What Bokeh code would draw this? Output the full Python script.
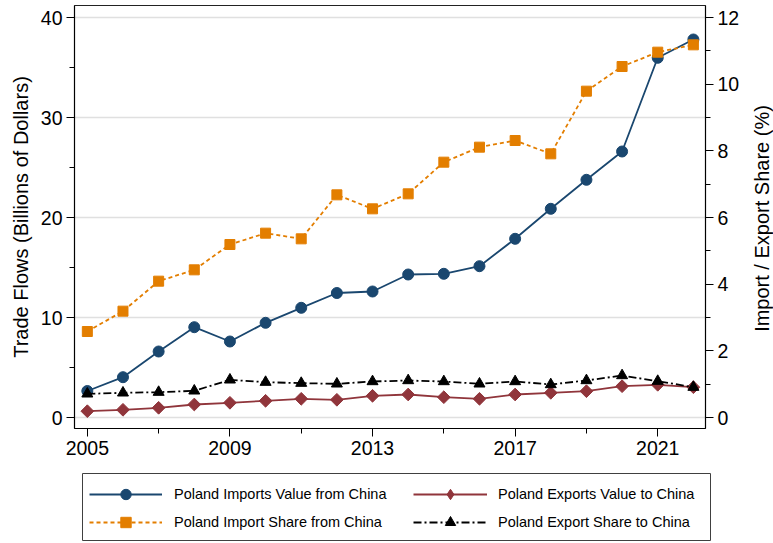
import math
from bokeh.plotting import figure
from bokeh.layouts import column, row
from bokeh.models import Range1d, LinearAxis, FixedTicker, Legend, LegendItem, Label
from bokeh.embed import file_html
from bokeh.resources import INLINE

years = list(range(2005, 2023))
imports_value = [2.65, 4.03, 6.6, 9.03, 7.6, 9.47, 10.97, 12.45, 12.6, 14.3,
                 14.37, 15.13, 17.87, 20.87, 23.77, 26.6, 35.97, 37.8]
exports_value = [0.63, 0.77, 0.97, 1.3, 1.47, 1.67, 1.87, 1.77, 2.17, 2.3,
                 2.03, 1.87, 2.3, 2.47, 2.63, 3.13, 3.27, 3.03]
import_share = [2.58, 3.19, 4.09, 4.43, 5.19, 5.53, 5.36, 6.68, 6.26, 6.71,
                7.66, 8.11, 8.31, 7.91, 9.79, 10.53, 10.96, 11.18]
export_share = [0.71, 0.74, 0.76, 0.8, 1.13, 1.06, 1.03, 1.01, 1.08, 1.11,
                1.08, 1.01, 1.08, 0.99, 1.11, 1.26, 1.09, 0.91]

x_major = [2005, 2009, 2013, 2017, 2021]
x_minor = [2007, 2011, 2015, 2019]
left_major = [0, 10, 20, 30, 40]
left_minor = [5, 15, 25, 35]
right_major = [0, 2, 4, 6, 8, 10, 12]
right_minor = [1, 3, 5, 7, 9, 11]

labels = ["Poland Imports Value from China", "Poland Exports Value to China",
          "Poland Import Share from China", "Poland Export Share to China"]
left_title = "Trade Flows (Billions of Dollars)"
right_title = "Import / Export Share (%)"

BLUE = "#1a476f"
RED = "#90353b"
ORANGE = "#e37e00"
BLACK = "#000000"
FONT = "Liberation Sans"
TITLE_SIZE = "20px"
NAN = float("nan")

# ---------------- main chart ----------------
p = figure(width=742, height=470, output_backend="svg", toolbar_location=None,
           x_range=Range1d(2004.64, 2022.34), y_range=Range1d(-1.1, 41.2),
           min_border_left=74, min_border_right=35, min_border_top=5,
           min_border_bottom=42)
p.frame_align = False
p.extra_y_ranges = {"share": Range1d(-0.33, 12.36)}

p.outline_line_color = "#222222"
p.outline_line_width = 1
p.background_fill_color = "white"
p.border_fill_color = "white"

p.xgrid.visible = False
p.ygrid.ticker = FixedTicker(ticks=left_major)
p.ygrid.grid_line_color = "#e0e0e0"
p.ygrid.grid_line_width = 1.5

def style_axis(ax):
    ax.axis_line_color = "black"
    ax.axis_line_width = 1.2
    ax.major_tick_line_color = "black"
    ax.minor_tick_line_color = "black"
    ax.major_tick_out = 8
    ax.major_tick_in = 0
    ax.minor_tick_out = 5
    ax.minor_tick_in = 0
    ax.major_label_text_font = FONT
    ax.major_label_text_font_size = "19.5px"
    ax.major_label_text_color = "black"
    ax.major_label_standoff = 4
    ax.axis_label_text_font = FONT
    ax.axis_label_text_font_size = TITLE_SIZE
    ax.axis_label_text_font_style = "normal"
    ax.axis_label_text_color = "black"

xa = p.xaxis[0]
xa.ticker = FixedTicker(ticks=x_major, minor_ticks=x_minor)
style_axis(xa)

ya = p.yaxis[0]
ya.ticker = FixedTicker(ticks=left_major, minor_ticks=left_minor)
ya.axis_label = left_title
style_axis(ya)
ya.axis_label_standoff = 6

ra = LinearAxis(y_range_name="share",
                ticker=FixedTicker(ticks=right_major, minor_ticks=right_minor))
style_axis(ra)
p.add_layout(ra, "right")

p.line(years, imports_value, line_color=BLUE, line_width=1.8)
p.scatter(years, imports_value, marker="circle", size=11,
          fill_color=BLUE, line_color=BLUE)
p.line(years, exports_value, line_color=RED, line_width=1.8)
p.scatter(years, exports_value, marker="square", angle=math.pi / 4, size=9,
          fill_color=RED, line_color=RED)
p.line(years, import_share, line_color=ORANGE, line_width=1.8,
       line_dash="4 3", y_range_name="share")
p.scatter(years, import_share, marker="square", size=10,
          fill_color=ORANGE, line_color=ORANGE, y_range_name="share")
p.line(years, export_share, line_color=BLACK, line_width=1.8,
       line_dash="8 3 2 3", y_range_name="share")
p.scatter(years, export_share, marker="triangle", size=11,
          fill_color=BLACK, line_color=BLACK, y_range_name="share")

# ---------------- right title strip ----------------
pr = figure(width=31, height=470, output_backend="svg", toolbar_location=None,
            x_range=Range1d(0, 1), y_range=Range1d(0, 1),
            x_axis_type=None, y_axis_type=None,
            min_border_left=0, min_border_right=0, min_border_top=0,
            min_border_bottom=0)
pr.frame_align = False
pr.grid.visible = False
pr.outline_line_color = None
pr.background_fill_color = "white"
pr.border_fill_color = "white"
pr.add_layout(Label(x=19, y=252, x_units="screen", y_units="screen",
                    text=right_title, angle=math.pi / 2,
                    text_align="center", text_baseline="middle",
                    text_font=FONT, text_font_size=TITLE_SIZE, text_color="black"))

# ---------------- legend strip ----------------
lg = figure(width=773, height=73, output_backend="svg", toolbar_location=None,
            x_range=Range1d(0, 1), y_range=Range1d(0, 1),
            x_axis_type=None, y_axis_type=None,
            min_border_left=82, min_border_right=63, min_border_top=3,
            min_border_bottom=3)
lg.frame_align = False
lg.grid.visible = False
lg.outline_line_color = "#404040"
lg.outline_line_width = 1
lg.background_fill_color = "white"
lg.border_fill_color = "white"

def sample(color, dash, marker):
    ln = lg.line(x=[NAN], y=[NAN], line_color=color, line_width=1.8, line_dash=dash)
    mk = lg.scatter(x=[NAN], y=[NAN], marker=marker, fill_color=color, line_color=color)
    return [ln, mk]

r_imp_val = sample(BLUE, "solid", "circle")
r_exp_val = sample(RED, "solid", "diamond")
r_imp_sh = sample(ORANGE, "4 3", "square")
r_exp_sh = sample(BLACK, "8 3 2 3", "triangle")

common = dict(glyph_height=26, label_height=26, padding=0, spacing=2, margin=0,
              label_text_font=FONT, label_text_font_size="14.5px",
              label_text_color="black",
              border_line_color=None, background_fill_alpha=0)
leg_a = Legend(items=[LegendItem(label=labels[0], renderers=r_imp_val),
                      LegendItem(label=labels[2], renderers=r_imp_sh)],
               location=(7, 5), glyph_width=73, label_standoff=12, **common)
leg_b = Legend(items=[LegendItem(label=labels[1], renderers=r_exp_val),
                      LegendItem(label=labels[3], renderers=r_exp_sh)],
               location=(331, 5), glyph_width=74, label_standoff=11, **common)
lg.add_layout(leg_a, "center")
lg.add_layout(leg_b, "center")

layout = column(row(p, pr, spacing=0), lg, spacing=0)
open("out.html", "w").write(file_html(layout, INLINE))
